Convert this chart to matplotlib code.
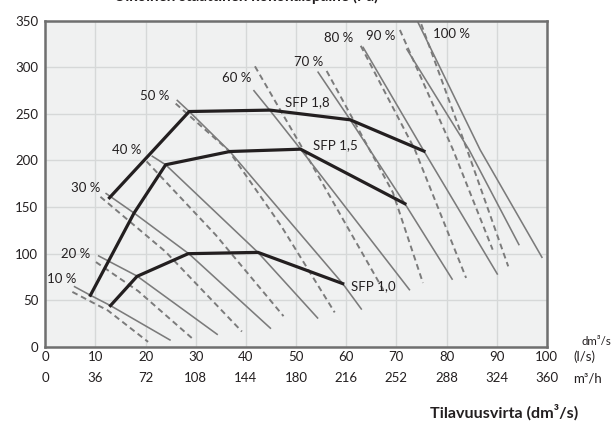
import matplotlib.pyplot as plt

plt.rcParams['font.family'] = ['Lato', 'DejaVu Sans']

# axis ticks
flow_ls = [0, 10, 20, 30, 40, 50, 60, 70, 80, 90, 100]
flow_m3h = [0, 36, 72, 108, 144, 180, 216, 252, 288, 324, 360]
pressure_ticks = [0, 50, 100, 150, 200, 250, 300, 350]

# fan curves (solid)
solid_x = [
    [5.7, 9.0, 13.0, 25.0],
    [10.5, 18.3, 34.4],
    [12.0, 17.7, 28.7, 45.0],
    [21.2, 24.0, 42.4, 54.4],
    [26.2, 28.7, 36.8, 59.3, 63.1],
    [41.5, 44.8, 50.9, 72.7],
    [54.3, 60.8, 71.7, 81.2],
    [63.3, 75.5, 90.2],
    [72.0, 84.5, 94.5],
    [73.6, 86.7, 99.1],
]
solid_y = [
    [65, 55.4, 44.3, 7],
    [98, 76, 13],
    [165, 143.6, 99.6, 19.5],
    [205, 195.4, 101.4, 30.4],
    [265, 252.5, 209.6, 67.9, 40],
    [275.5, 253.6, 212.1, 60.7],
    [295.4, 243.6, 153.6, 72],
    [322, 210, 77.5],
    [320, 211.4, 109],
    [356, 211.4, 95.4],
]

# fan curves (dashed)
dashed_x = [
    [5.4, 12.5, 20.5],
    [10.1, 18.5, 29.2],
    [11.0, 24.0, 39.2],
    [20.2, 34.0, 47.5],
    [26.0, 36.5, 47.0, 57.7],
    [41.8, 51.5, 67.4],
    [56.1, 69.3, 75.3],
    [62.9, 73.7, 83.9],
    [70.7, 81.3, 89.2],
    [74.3, 84.1, 92.3],
]
dashed_y = [
    [59, 39, 5.4],
    [91, 60, 9.6],
    [161, 102, 16.5],
    [199, 120, 33],
    [261, 211, 130, 37],
    [301, 211, 61],
    [296, 165.7, 68.6],
    [323, 211.4, 74],
    [340, 211.4, 104.3],
    [356, 211.4, 86.4],
]

pct_labels = ['10 %', '20 %', '30 %', '40 %', '50 %', '60 %', '70 %', '80 %', '90 %', '100 %']
pct_x = [3.3, 6.0, 8.0, 16.3, 21.9, 38.2, 52.6, 58.5, 66.9, 80.9]
pct_y = [73, 99.6, 170, 211, 269, 288, 306, 331, 333, 336]

# SFP lines
sfp_labels = ['SFP 1,8', 'SFP 1,5', 'SFP 1,0']
sfp_x = [
    [12.8, 28.7, 44.8, 60.8, 75.5],
    [9.0, 17.7, 24.0, 36.8, 50.9, 71.7],
    [13.0, 18.3, 28.5, 42.4, 59.3],
]
sfp_y = [
    [160, 252.5, 254, 243.6, 210],
    [55.4, 143.6, 195.4, 209.6, 212.1, 153.6],
    [44.3, 75.7, 100, 101.4, 67.9],
]
sfp_lx = [52.2, 57.8, 65.5]
sfp_ly = [262.5, 216.8, 65.7]

fig = plt.figure(figsize=(6.11, 4.21), dpi=100)
ax = fig.add_axes([0.0741, 0.176, 0.8209, 0.775])
ax.set_facecolor('#f0f1f1')

gray = '#7b7b7b'
for xs, ys in zip(solid_x, solid_y):
    ax.plot(xs, ys, color=gray, lw=1.15, solid_capstyle='butt')
for xs, ys in zip(dashed_x, dashed_y):
    ax.plot(xs, ys, color=gray, lw=1.4, dashes=(3, 2))
for xs, ys in zip(sfp_x, sfp_y):
    ax.plot(xs, ys, color='#231f20', lw=2.3, solid_joinstyle='miter')

for lab, x, y in zip(pct_labels, pct_x, pct_y):
    ax.text(x, y, lab, ha='center', va='center', fontsize=9.5, color='#231f20')
for lab, x, y in zip(sfp_labels, sfp_lx, sfp_ly):
    ax.text(x, y, lab, ha='center', va='center', fontsize=9.5, color='#231f20')

ax.set_xlim(0, 100)
ax.set_ylim(0, 350)
ax.set_xticks(flow_ls)
ax.set_yticks(pressure_ticks)
ax.tick_params(axis='both', length=0, labelsize=9.5, colors='#231f20')
ax.tick_params(axis='x', pad=3)
ax.tick_params(axis='y', pad=5)
ax.grid(True, color='#d6d8d8', lw=1.0)
ax.set_axisbelow(True)
for sp in ax.spines.values():
    sp.set_color('#6f6f6f')
    sp.set_linewidth(1.8)

# second row of x labels (m3/h)
for x, m in zip(flow_ls, flow_m3h):
    ax.text(x, -0.095, str(m), transform=ax.get_xaxis_transform(),
            ha='center', va='center', fontsize=9.5, color='#231f20')

fig.text(0.951, 0.19, 'dm³/s', fontsize=8.3, va='center', ha='left', color='#231f20')
fig.text(0.938, 0.152, '(l/s)', fontsize=9.5, va='center', ha='left', color='#231f20')
fig.text(0.938, 0.102, 'm³/h', fontsize=9.5, va='center', ha='left', color='#231f20')
fig.text(0.703, 0.021, 'Tilavuusvirta (dm³/s)', fontsize=11.6, fontweight='bold',
         va='center', ha='left', color='#231f20')
fig.text(0.619, 1 - 1.5 / 421, 'Ulkoinen staattinen kokonaispaine (Pa)', fontsize=11,
         fontweight='bold', va='baseline', ha='right', color='#231f20')

fig.savefig('out.png', dpi=100)
